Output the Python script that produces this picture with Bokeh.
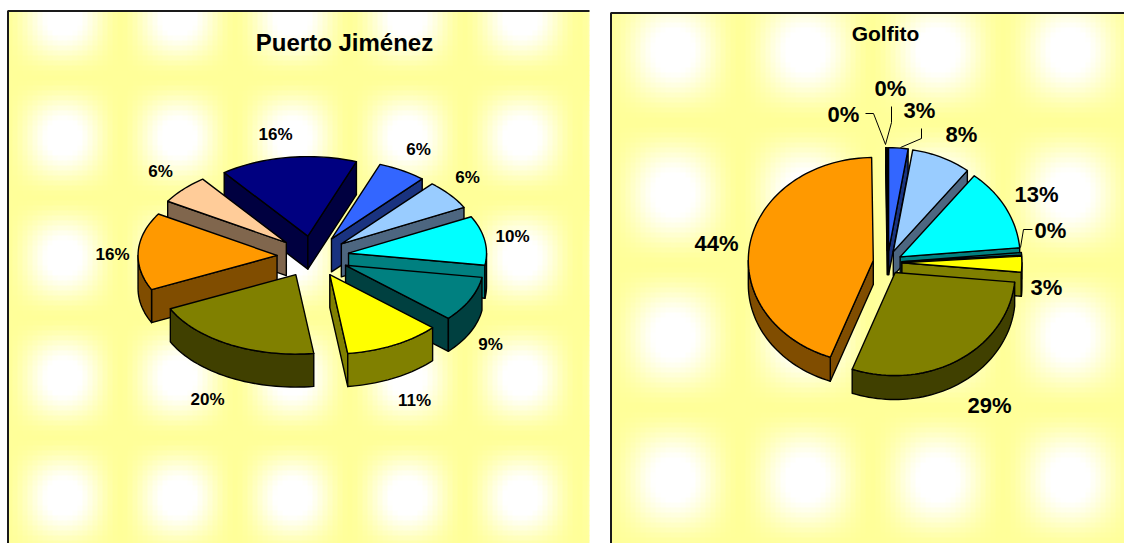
import math
import numpy as np
from bokeh.plotting import figure
from bokeh.models import Range1d, ColumnDataSource
from bokeh.core.properties import value
from bokeh.embed import file_html
from bokeh.resources import INLINE

# ---- data -------------------------------------------------------------
slice_colors = ["#000080", "#3366FF", "#99CCFF", "#00FFFF", "#008080",
                "#FFFF00", "#808000", "#FF9900", "#FFCC99"]
side_colors = ["#000040", "#1A3380", "#4D6680", "#008080", "#004040",
               "#808000", "#404000", "#804D00", "#80664D"]

pj_title = "Puerto Jiménez"
pj_values = [16, 5.7, 6, 10, 9.2, 11.3, 20, 15.8, 6]
pj_labels = ["16%", "6%", "6%", "10%", "9%", "11%", "20%", "16%", "6%"]

go_title = "Golfito"
go_values = [0.1, 2.6, 8, 13, 0.4, 2.5, 29.1, 44.2, 0.1]
go_labels = ["0%", "3%", "8%", "13%", "0%", "3%", "29%", "44%", "0%"]

# ---- layout (page pixels) ---------------------------------------------
W, H = 1124, 543
X0, Y0 = 0, 0
X1, Y1 = X0 + W, Y0 + H

PJ = dict(cx=312.5, cy=256, ar=138, al=139, b=79.5, e=36, depth=33, start=-37)
GO = dict(cx=887, cy=262, ar=120, al=125, b=103, e=14.4, depth=24, start=-0.4)

pj_label_xy = [(275, 134), (418, 149), (467, 177), (512, 236), (490, 344),
               (414, 400), (207, 399), (112, 254), (160, 171)]
go_label_xy = [(890, 88), (919, 110), (961, 134), (1036, 194), (1050, 230),
               (1046, 287), (989, 405), (716, 243), (843, 114)]
go_leaders = [[(885, 144), (891, 122), (891, 106)],
              [(900, 147), (921, 138), (921, 128)],
              [(1020, 247), (1023, 229), (1032, 229)],
              [(885, 144), (873, 113), (865, 113)]]

p = figure(width=W, height=H, output_backend="svg", toolbar_location=None,
           x_range=Range1d(X0, X1), y_range=Range1d(Y1, Y0),
           min_border=0, outline_line_color=None, background_fill_color="white",
           border_fill_color="white")
p.axis.visible = False
p.grid.visible = False

CELL = 5


def panel(x0, x1, y0, y1, bx, by, px, py):
    lefts, rights, tops, bottoms, cols = [], [], [], [], []
    for cy in np.arange(y0, y1, CELL):
        gy = (0.5 + 0.5 * math.cos(2 * math.pi * (cy + CELL / 2 - by) / py)) ** 0.8
        for cx in np.arange(x0, x1, CELL):
            gx = (0.5 + 0.5 * math.cos(2 * math.pi * (cx + CELL / 2 - bx) / px)) ** 0.8
            t = min(1.0, gx * gy * 1.2)
            cols.append("#FFFF%02X" % int(153 + 102 * t))
            lefts.append(cx)
            rights.append(min(x1, cx + CELL + 0.6))
            tops.append(cy)
            bottoms.append(min(y1, cy + CELL + 0.6))
    p.quad(left=lefts, right=rights, top=tops, bottom=bottoms, fill_color=cols, line_color=None)


panel(7, 589, 10, Y1, 63, 137, 114.5, 120)
panel(610, X1, 12, Y1, 673, 50, 132, 143)
p.line([7.5, 7.5, 589], [Y1, 10.5, 10.5], line_color="#1a1a1a", line_width=2)
p.line([610.5, 610.5, X1], [Y1, 12.5, 12.5], line_color="#1a1a1a", line_width=2)


def rim(g, ang, ox, oy):
    t = math.radians(ang)
    s = math.sin(t)
    return ox + (g["ar"] if s >= 0 else g["al"]) * s, oy - g["b"] * math.cos(t)


def draw_pie(values, g):
    total = sum(values)
    items = []
    ang = g["start"]
    k = g["b"] / g["al"]
    for i, v in enumerate(values):
        a0, a1 = ang, ang + 360 * v / total
        ang = a1
        t = math.radians((a0 + a1) / 2)
        ax = g["cx"] + g["e"] * math.sin(t)
        ay = g["cy"] - g["e"] * k * math.cos(t)
        items.append((ay, i, a0, a1, ax, ay))
    items.sort()
    xs, ys, fills = [], [], []
    d = g["depth"]

    def add(poly, col):
        xs.append([q[0] for q in poly])
        ys.append([q[1] for q in poly])
        fills.append(col)

    for _, i, a0, a1, ax, ay in items:
        n = max(2, int((a1 - a0) / 2) + 1)
        arc = [rim(g, a0 + (a1 - a0) * j / n, ax, ay) for j in range(n + 1)]
        if math.sin(math.radians(a0)) < 0:
            e0 = arc[0]
            add([(ax, ay), e0, (e0[0], e0[1] + d), (ax, ay + d)], side_colors[i])
        if math.sin(math.radians(a1)) > 0:
            e1 = arc[-1]
            add([(ax, ay), e1, (e1[0], e1[1] + d), (ax, ay + d)], side_colors[i])
        lo, hi = max(a0, 90), min(a1, 270)
        if hi > lo:
            m = max(2, int((hi - lo) / 2) + 1)
            front = [rim(g, lo + (hi - lo) * j / m, ax, ay) for j in range(m + 1)]
            add(front + [(q[0], q[1] + d) for q in reversed(front)], side_colors[i])
        add([(ax, ay)] + arc, slice_colors[i])
    src = ColumnDataSource(dict(xs=xs, ys=ys, fill=fills))
    p.patches("xs", "ys", source=src, fill_color="fill", line_color="black",
              line_width=1.4, line_join="round")


draw_pie(pj_values, PJ)
draw_pie(go_values, GO)

for leader in go_leaders:
    p.line([q[0] for q in leader], [q[1] for q in leader], line_color="black", line_width=1)


def labels(txt, xy, size):
    p.text(x=[q[0] for q in xy], y=[q[1] for q in xy], text=txt,
           text_font=value("Liberation Sans"), text_font_style="bold",
           text_font_size=size, text_align="center", text_baseline="middle",
           text_color="black")


labels(pj_labels, pj_label_xy, "17px")
labels(go_labels, go_label_xy, "22px")
labels([pj_title], [(344, 42)], "24px")
labels([go_title], [(885, 33)], "21px")

open("out.html", "w").write(file_html(p, INLINE))
